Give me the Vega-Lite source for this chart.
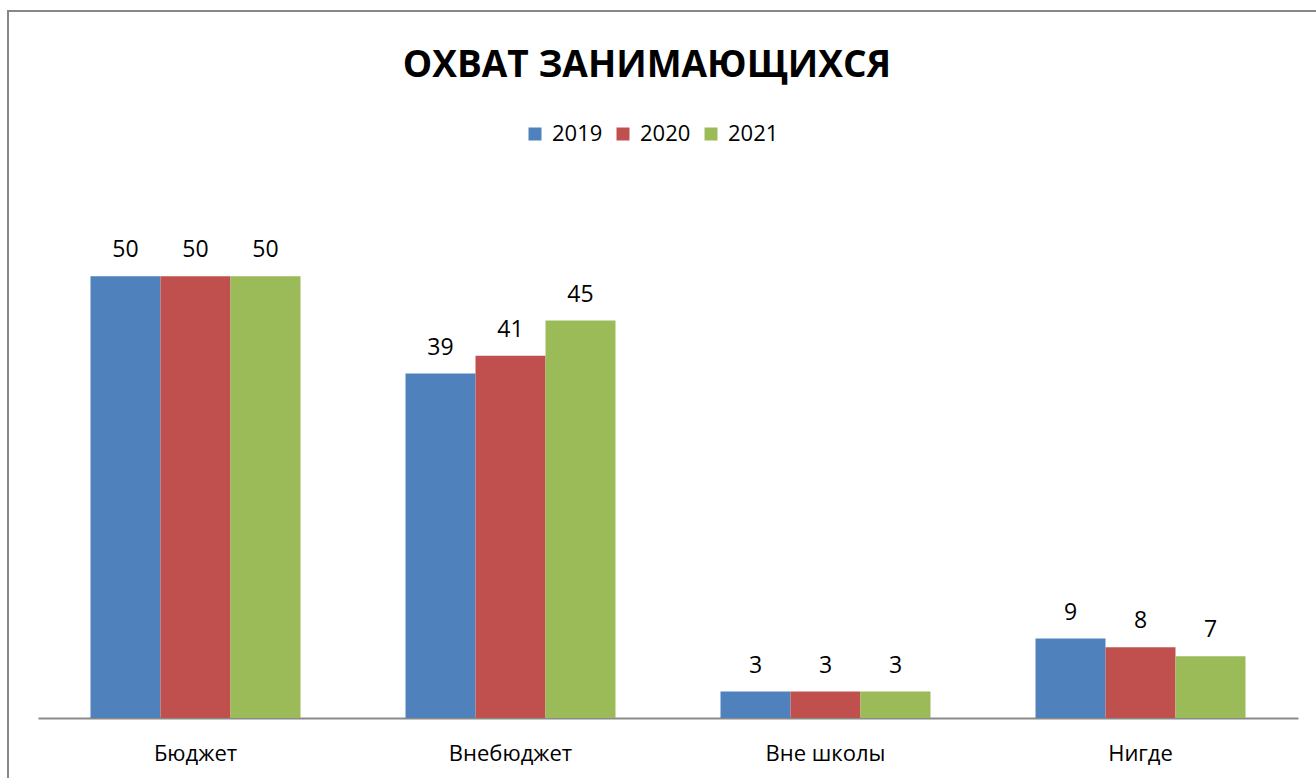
{
  "$schema": "https://vega.github.io/schema/vega-lite/v6.json",
  "autosize": {"type": "none"},
  "padding": {"left": 8, "top": 11, "right": 0, "bottom": 0},
  "width": 1308,
  "height": 767,
  "background": "white",
  "title": {
    "text": "ОХВАТ ЗАНИМАЮЩИХСЯ",
    "font": "Open Sans",
    "fontSize": 37,
    "fontWeight": "bold",
    "color": "black",
    "anchor": "middle",
    "frame": "group",
    "baseline": "alphabetic",
    "offset": 0,
    "dy": 103,
    "dx": -15
  },
  "data": {
    "values": [
      {"category": "Бюджет", "year": "2019", "value": 50},
      {"category": "Бюджет", "year": "2020", "value": 50},
      {"category": "Бюджет", "year": "2021", "value": 50},
      {"category": "Внебюджет", "year": "2019", "value": 39},
      {"category": "Внебюджет", "year": "2020", "value": 41},
      {"category": "Внебюджет", "year": "2021", "value": 45},
      {"category": "Вне школы", "year": "2019", "value": 3},
      {"category": "Вне школы", "year": "2020", "value": 3},
      {"category": "Вне школы", "year": "2021", "value": 3},
      {"category": "Нигде", "year": "2019", "value": 9},
      {"category": "Нигде", "year": "2020", "value": 8},
      {"category": "Нигде", "year": "2021", "value": 7}
    ]
  },
  "encoding": {
    "x": {
      "field": "category",
      "type": "nominal",
      "sort": null,
      "scale": {"range": [30, 1290], "paddingInner": 0.33333, "paddingOuter": 0.16667},
      "axis": {
        "title": null,
        "orient": "bottom",
        "offset": -60,
        "ticks": false,
        "tickSize": 0,
        "labelAngle": 0,
        "labelFont": "Open Sans",
        "labelFontSize": 22,
        "labelColor": "black",
        "labelBaseline": "alphabetic",
        "labelPadding": 42,
        "domainColor": "#8a8a8a",
        "domainWidth": 2,
        "grid": false
      }
    },
    "xOffset": {"field": "year", "type": "nominal", "scale": {"paddingInner": 0, "paddingOuter": 0}},
    "y": {
      "field": "value",
      "type": "quantitative",
      "scale": {"domain": [0, 60], "range": [707, 177], "nice": false, "zero": true},
      "axis": null
    }
  },
  "layer": [
    {
      "mark": {"type": "bar", "strokeWidth": 0},
      "encoding": {
        "color": {
          "field": "year",
          "type": "nominal",
          "scale": {"domain": ["2019", "2020", "2021"], "range": ["#4F81BD", "#C0504D", "#9BBB59"]},
          "legend": {
            "title": null,
            "orient": "none",
            "direction": "horizontal",
            "legendX": 516,
            "legendY": 112,
            "padding": 0,
            "symbolType": "square",
            "symbolSize": 169,
            "symbolStrokeWidth": 0,
            "labelFont": "Open Sans",
            "labelFontSize": 22,
            "labelColor": "black",
            "labelOffset": 6,
            "columnPadding": 9
          }
        }
      }
    },
    {
      "mark": {"type": "text", "font": "Open Sans", "fontSize": 23, "color": "black", "baseline": "alphabetic", "dy": -19},
      "encoding": {"text": {"field": "value", "type": "quantitative"}}
    }
  ],
  "config": {
    "view": {"stroke": "#878787", "strokeWidth": 2, "strokeDash": [1308, 2075, 767, 1]}
  }
}
